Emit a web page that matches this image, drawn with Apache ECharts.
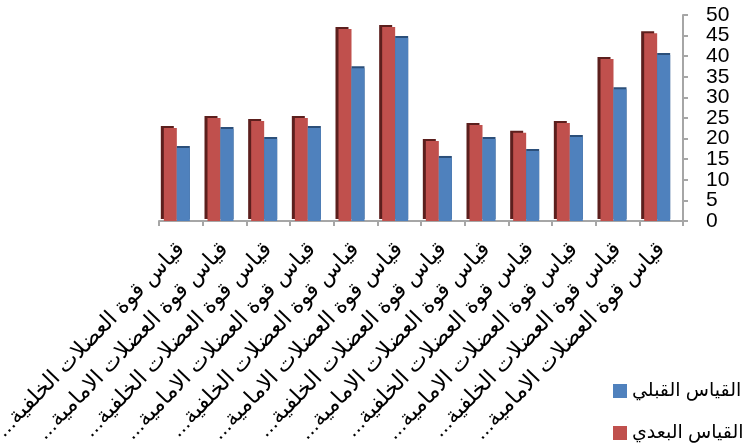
<!DOCTYPE html>
<html>
<head>
<meta charset="utf-8">
<script src="https://cdn.jsdelivr.net/npm/echarts@6/dist/echarts.min.js"></script>
<style>
html,body{margin:0;padding:0;background:#fff;}
#chart{width:749px;height:444px;}
</style>
</head>
<body>
<div id="chart"></div>
<script>
const categories = [
  'قياس قوة العضلات الخلفية...',
  'قياس قوة العضلات الامامية...',
  'قياس قوة العضلات الخلفية...',
  'قياس قوة العضلات الامامية...',
  'قياس قوة العضلات الخلفية...',
  'قياس قوة العضلات الامامية...',
  'قياس قوة العضلات الخلفية...',
  'قياس قوة العضلات الامامية...',
  'قياس قوة العضلات الخلفية...',
  'قياس قوة العضلات الامامية...',
  'قياس قوة العضلات الخلفية...',
  'قياس قوة العضلات الامامية...'
];
const postName = 'القياس البعدي';
const preName = 'القياس القبلي';
const postValues = [22.6, 25.0, 24.3, 25.0, 46.6, 47.1, 19.4, 23.3, 21.4, 23.8, 39.3, 45.6];
const preValues  = [17.7, 22.3, 19.9, 22.6, 37.1, 44.4, 15.3, 19.9, 17.0, 20.4, 32.0, 40.3];
const yMin = 0, yMax = 50, yStep = 5;

const RLM = '\u200F';
const chart = echarts.init(document.getElementById('chart'));
const fontFam = '"Liberation Sans", Arial, "DejaVu Sans", sans-serif';
const legendBase = {
  orient: 'vertical',
  left: 613,
  padding: 0,
  icon: 'rect',
  itemWidth: 14,
  itemHeight: 14,
  itemTextGap: 8,
  textStyle: {fontSize: 19, lineHeight: 20, color: '#000', fontFamily: fontFam}
};
const yLabelBase = {margin: 23, fontSize: 21, color: '#000', fontFamily: fontFam, hideOverlap: false};
chart.setOption({
  animation: false,
  backgroundColor: '#ffffff',
  grid: {left: 159, right: 66, top: 15, bottom: 223, containLabel: false, outerBoundsMode: 'none'},
  legend: [
    Object.assign({}, legendBase, {top: 381, data: [preName]}),
    Object.assign({}, legendBase, {top: 423, data: [postName]})
  ],
  xAxis: {
    type: 'category',
    data: categories,
    axisLine: {show: true, lineStyle: {color: '#a6a6a6', width: 2}},
    axisTick: {show: true, length: 5, lineStyle: {color: '#a6a6a6', width: 2}},
    axisLabel: {
      interval: 0,
      rotate: 46,
      margin: 25,
      fontSize: 22,
      color: '#000',
      fontFamily: fontFam,
      formatter: (v) => v + RLM
    }
  },
  yAxis: [
    {
      type: 'value',
      position: 'right',
      min: yMin, max: yMax, interval: yStep,
      axisLine: {show: true, lineStyle: {color: '#a6a6a6', width: 2}},
      axisTick: {show: true, length: 5, inside: false, lineStyle: {color: '#a6a6a6', width: 2}},
      splitLine: {show: false},
      axisLabel: Object.assign({}, yLabelBase, {
        showMinLabel: true, showMaxLabel: true,
        formatter: (v) => (v % (yStep * 2) === yStep ? String(v) : '')
      })
    },
    {
      type: 'value',
      position: 'right',
      offset: 0,
      min: yMin, max: yMax, interval: yStep * 2,
      axisLine: {show: false},
      axisTick: {show: false},
      splitLine: {show: false},
      axisLabel: Object.assign({}, yLabelBase, {showMinLabel: true, showMaxLabel: true})
    }
  ],
  series: [
    {
      name: postName,
      type: 'bar',
      yAxisIndex: 0,
      data: postValues,
      barWidth: 13,
      barGap: '0%',
      itemStyle: {color: '#c0504d', shadowColor: '#5c1f1d', shadowOffsetX: -3, shadowOffsetY: -2, shadowBlur: 0}
    },
    {
      name: preName,
      type: 'bar',
      yAxisIndex: 0,
      data: preValues,
      barWidth: 13,
      barGap: '0%',
      itemStyle: {color: '#4f81bd', shadowColor: '#2b4f7a', shadowOffsetX: 0, shadowOffsetY: -2, shadowBlur: 0}
    },
    {
      name: 'spacer',
      type: 'bar',
      yAxisIndex: 0,
      data: postValues.map(() => 0),
      barWidth: 8,
      barGap: '0%',
      barCategoryGap: '20%',
      itemStyle: {color: 'transparent'},
      silent: true
    }
  ]
});
</script>
</body>
</html>
